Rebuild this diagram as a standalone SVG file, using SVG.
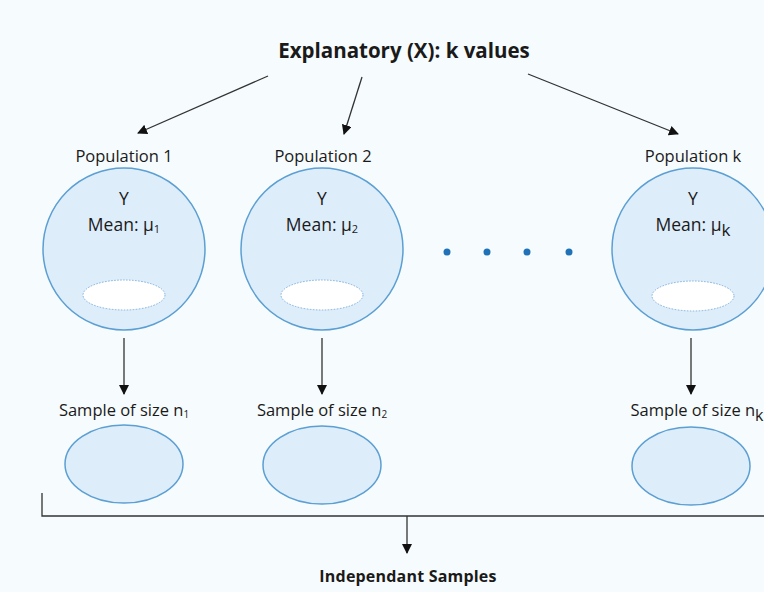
<svg xmlns="http://www.w3.org/2000/svg" width="764" height="592" viewBox="0 0 764 592">
  <style>
    text { font-family: "Open Sans", "Liberation Sans", Arial, sans-serif; fill: #1a1a1a; text-anchor: middle; }
    .title { font-size: 20.5px; font-weight: 700; }
    .lbl { font-size: 16.5px; }
    .inner { font-size: 17.5px; }
    .foot { font-size: 16px; font-weight: 700; letter-spacing: 0.2px; }
    .pop { fill: #deedfa; stroke: #5b9fd3; stroke-width: 1.5; }
    .hole { fill: #ffffff; stroke: #7fb2dd; stroke-width: 1; stroke-dasharray: 1.5 1.5; }
    .samp { fill: #deedfa; stroke: #5b9fd3; stroke-width: 1.5; }
    .conn { stroke: #333333; stroke-width: 1.3; fill: none; }
    .dot { fill: #1f72b8; }
  </style>
  <defs>
    <marker id="arrow" viewBox="0 0 10 10" refX="9" refY="5" markerWidth="10" markerHeight="10" markerUnits="userSpaceOnUse" orient="auto">
      <path d="M0,0 L10,5 L0,10 z" fill="#111111"/>
    </marker>
  </defs>
  <rect width="764" height="592" fill="#f6fbfd"/>

  <g id="explanatory">
    <text class="title" x="404" y="58">Explanatory (X): k values</text>
  </g>

  <g id="population-1">
    <text class="lbl" x="124" y="162">Population 1</text>
    <circle class="pop" cx="124" cy="249" r="81"/>
    <text class="inner" x="124" y="205">Y</text>
    <text class="inner" x="124" y="231">Mean: μ<tspan font-size="11" dy="2">1</tspan></text>
    <ellipse class="hole" cx="124" cy="295" rx="41" ry="15"/>
  </g>

  <g id="population-2">
    <text class="lbl" x="323" y="162">Population 2</text>
    <circle class="pop" cx="322" cy="249" r="81"/>
    <text class="inner" x="322" y="205">Y</text>
    <text class="inner" x="322" y="231">Mean: μ<tspan font-size="11" dy="2">2</tspan></text>
    <ellipse class="hole" cx="322" cy="295" rx="41" ry="15"/>
  </g>

  <g id="ellipsis">
    <circle class="dot" cx="447" cy="252" r="3.5"/>
    <circle class="dot" cx="487" cy="252" r="3.5"/>
    <circle class="dot" cx="527" cy="252" r="3.5"/>
    <circle class="dot" cx="569" cy="252" r="3.5"/>
  </g>

  <g id="population-k">
    <text class="lbl" x="693" y="162">Population k</text>
    <circle class="pop" cx="693" cy="249" r="81"/>
    <text class="inner" x="693" y="205">Y</text>
    <text class="inner" x="693" y="231">Mean: μ<tspan font-size="17" dy="5">k</tspan></text>
    <ellipse class="hole" cx="693" cy="296" rx="41" ry="15"/>
  </g>

  <g id="sample-1">
    <text class="lbl" x="124" y="416">Sample of size n<tspan font-size="10" dy="2">1</tspan></text>
    <ellipse class="samp" cx="124" cy="464" rx="59" ry="39"/>
  </g>

  <g id="sample-2">
    <text class="lbl" x="322" y="416">Sample of size n<tspan font-size="10" dy="2">2</tspan></text>
    <ellipse class="samp" cx="322" cy="465" rx="59" ry="39"/>
  </g>

  <g id="sample-k">
    <text class="lbl" x="697" y="416">Sample of size n<tspan font-size="16" dy="5">k</tspan></text>
    <ellipse class="samp" cx="691" cy="466" rx="59" ry="39"/>
  </g>

  <g id="independent-samples">
    <text class="foot" x="408" y="582">Independant Samples</text>
  </g>

  <g id="connectors">
    <line class="conn" x1="268" y1="76" x2="138" y2="133" marker-end="url(#arrow)"/>
    <line class="conn" x1="362" y1="77" x2="344" y2="134" marker-end="url(#arrow)"/>
    <line class="conn" x1="528" y1="74" x2="678" y2="134" marker-end="url(#arrow)"/>
    <line class="conn" x1="124" y1="338" x2="124" y2="394" marker-end="url(#arrow)"/>
    <line class="conn" x1="322" y1="338" x2="322" y2="394" marker-end="url(#arrow)"/>
    <line class="conn" x1="691" y1="338" x2="691" y2="394" marker-end="url(#arrow)"/>
    <path class="conn" d="M42,493 V516 H764"/>
    <line class="conn" x1="407" y1="516" x2="407" y2="553" marker-end="url(#arrow)"/>
  </g>
</svg>
